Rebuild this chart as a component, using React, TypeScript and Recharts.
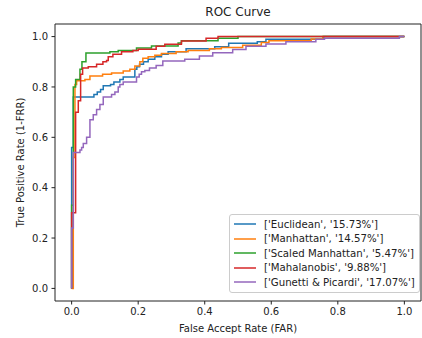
import React from 'react';
import { LineChart, Line, XAxis, YAxis, Legend, ReferenceLine } from 'recharts';

// ROC points (fpr where tpr steps up, new tpr)
const euclideanFpr = [0, 0, 0.005, 0.067, 0.077, 0.087, 0.095, 0.117, 0.127, 0.145, 0.155, 0.19, 0.196, 0.204, 0.216, 0.23, 0.25, 0.27, 0.29, 0.344, 0.43, 0.472, 0.558, 0.584, 0.758, 1];
const euclideanTpr = [0, 0.56, 0.76, 0.77, 0.78, 0.79, 0.805, 0.81, 0.82, 0.83, 0.84, 0.87, 0.88, 0.89, 0.9, 0.91, 0.92, 0.93, 0.94, 0.952, 0.96, 0.974, 0.98, 0.989, 1, 1];

const manhattanFpr = [0, 0.005, 0.01, 0.015, 0.04, 0.055, 0.093, 0.12, 0.155, 0.175, 0.19, 0.205, 0.214, 0.23, 0.25, 0.27, 0.314, 0.35, 0.414, 0.45, 0.514, 0.57, 0.593, 0.72, 0.755, 1];
const manhattanTpr = [0, 0.52, 0.81, 0.825, 0.83, 0.844, 0.85, 0.855, 0.863, 0.87, 0.883, 0.9, 0.914, 0.92, 0.926, 0.933, 0.94, 0.945, 0.952, 0.957, 0.966, 0.977, 0.983, 0.99, 1, 1];

const scaledFpr = [0, 0, 0.005, 0.012, 0.025, 0.031, 0.043, 0.115, 0.14, 0.195, 0.24, 0.32, 0.33, 0.44, 0.5, 1];
const scaledTpr = [0, 0.33, 0.8, 0.83, 0.87, 0.9, 0.935, 0.94, 0.945, 0.955, 0.963, 0.975, 0.983, 0.993, 1, 1];

const mahalanobisFpr = [0, 0, 0.012, 0.02, 0.027, 0.033, 0.05, 0.075, 0.094, 0.105, 0.11, 0.124, 0.15, 0.184, 0.2, 0.254, 0.28, 0.33, 0.404, 0.44, 1];
const mahalanobisTpr = [0, 0.3, 0.7, 0.745, 0.85, 0.875, 0.88, 0.89, 0.9, 0.905, 0.92, 0.93, 0.94, 0.945, 0.95, 0.962, 0.97, 0.982, 0.993, 1, 1];

const gunettiFpr = [0, 0, 0.005, 0.025, 0.03, 0.035, 0.045, 0.055, 0.065, 0.075, 0.085, 0.095, 0.12, 0.13, 0.14, 0.145, 0.155, 0.195, 0.203, 0.21, 0.22, 0.234, 0.254, 0.274, 0.34, 0.384, 0.424, 0.484, 0.524, 0.584, 0.644, 0.734, 0.76, 0.985, 1];
const gunettiTpr = [0, 0.24, 0.54, 0.55, 0.56, 0.575, 0.6, 0.67, 0.69, 0.71, 0.73, 0.76, 0.77, 0.78, 0.8, 0.81, 0.82, 0.84, 0.85, 0.86, 0.865, 0.875, 0.885, 0.903, 0.91, 0.923, 0.936, 0.949, 0.962, 0.971, 0.98, 0.989, 0.993, 1, 1];

const seriesNames = [
  "['Euclidean', '15.73%']",
  "['Manhattan', '14.57%']",
  "['Scaled Manhattan', '5.47%']",
  "['Mahalanobis', '9.88%']",
  "['Gunetti & Picardi', '17.07%']",
];
const colors = ['#1f77b4', '#ff7f0e', '#2ca02c', '#d62728', '#9467bd'];
const ticks = [0, 0.2, 0.4, 0.6, 0.8, 1.0];

const toPoints = (xs: number[], ys: number[]) => xs.map((x, i) => ({ x, y: ys[i] }));

const series = [
  toPoints(euclideanFpr, euclideanTpr),
  toPoints(manhattanFpr, manhattanTpr),
  toPoints(scaledFpr, scaledTpr),
  toPoints(mahalanobisFpr, mahalanobisTpr),
  toPoints(gunettiFpr, gunettiTpr),
];

const FONT = 'DejaVu Sans, sans-serif';

// matplotlib-style legend box
const LegendBox = () => (
  <div
    style={{
      display: 'inline-block',
      border: '1px solid #ccc',
      borderRadius: 3,
      background: 'rgba(255,255,255,0.8)',
      padding: '2px 4px 2px 2px',
      fontFamily: FONT,
      fontSize: 10.2,
      color: '#222',
    }}
  >
    {seriesNames.map((name, i) => (
      <div key={name} style={{ display: 'flex', alignItems: 'center', height: 14.5, whiteSpace: 'nowrap' }}>
        <svg width={25} height={6} style={{ marginRight: 7, flexShrink: 0 }}>
          <line x1={2} y1={3} x2={24} y2={3} stroke={colors[i]} strokeWidth={1.5} />
        </svg>
        <span>{name}</span>
      </div>
    ))}
  </div>
);

const App = () => {
  return (
    <div style={{ position: 'absolute', left: 0, top: 0, width: 422, height: 338, background: '#fff' }}>
      <div
        style={{
          position: 'absolute',
          left: 55,
          width: 366,
          top: 5,
          textAlign: 'center',
          fontFamily: FONT,
          fontSize: 12,
          color: '#222',
        }}
      >
        ROC Curve
      </div>
      <LineChart width={422} height={338} margin={{ top: 24, right: 1, bottom: 0, left: 0 }}>
        <XAxis
          type="number"
          dataKey="x"
          domain={[-0.05, 1.05]}
          ticks={ticks}
          allowDataOverflow
          tickFormatter={(v: number) => v.toFixed(1)}
          height={37}
          tickSize={3.5}
          tickMargin={3}
          stroke="#222"
          tick={{ fill: '#222', fontSize: 10, fontFamily: FONT }}
          label={{ value: 'False Accept Rate (FAR)', position: 'insideBottom', offset: 6, fill: '#222', fontSize: 10, fontFamily: FONT }}
        />
        <YAxis
          type="number"
          dataKey="y"
          domain={[-0.05, 1.05]}
          ticks={ticks}
          allowDataOverflow
          tickFormatter={(v: number) => v.toFixed(1)}
          width={55}
          tickSize={3.5}
          tickMargin={3.5}
          stroke="#222"
          tick={{ fill: '#222', fontSize: 10, fontFamily: FONT }}
          label={{ value: 'True Positive Rate (1-FRR)', angle: -90, position: 'insideLeft', offset: 20, style: { textAnchor: 'middle' }, fill: '#222', fontSize: 10, fontFamily: FONT }}
        />
        <ReferenceLine y={1.05} stroke="#222" />
        <ReferenceLine x={1.05} stroke="#222" />
        {series.map((pts, i) => (
          <Line
            key={seriesNames[i]}
            data={pts}
            dataKey="y"
            name={seriesNames[i]}
            type="stepAfter"
            stroke={colors[i]}
            strokeWidth={1.5}
            dot={false}
            activeDot={false}
            isAnimationActive={false}
          />
        ))}
        <Legend
          layout="vertical"
          align="center"
          verticalAlign="middle"
          content={() => <LegendBox />}
          wrapperStyle={{ left: 229, top: 214, width: 'auto' }}
        />
      </LineChart>
    </div>
  );
};

export default App;
